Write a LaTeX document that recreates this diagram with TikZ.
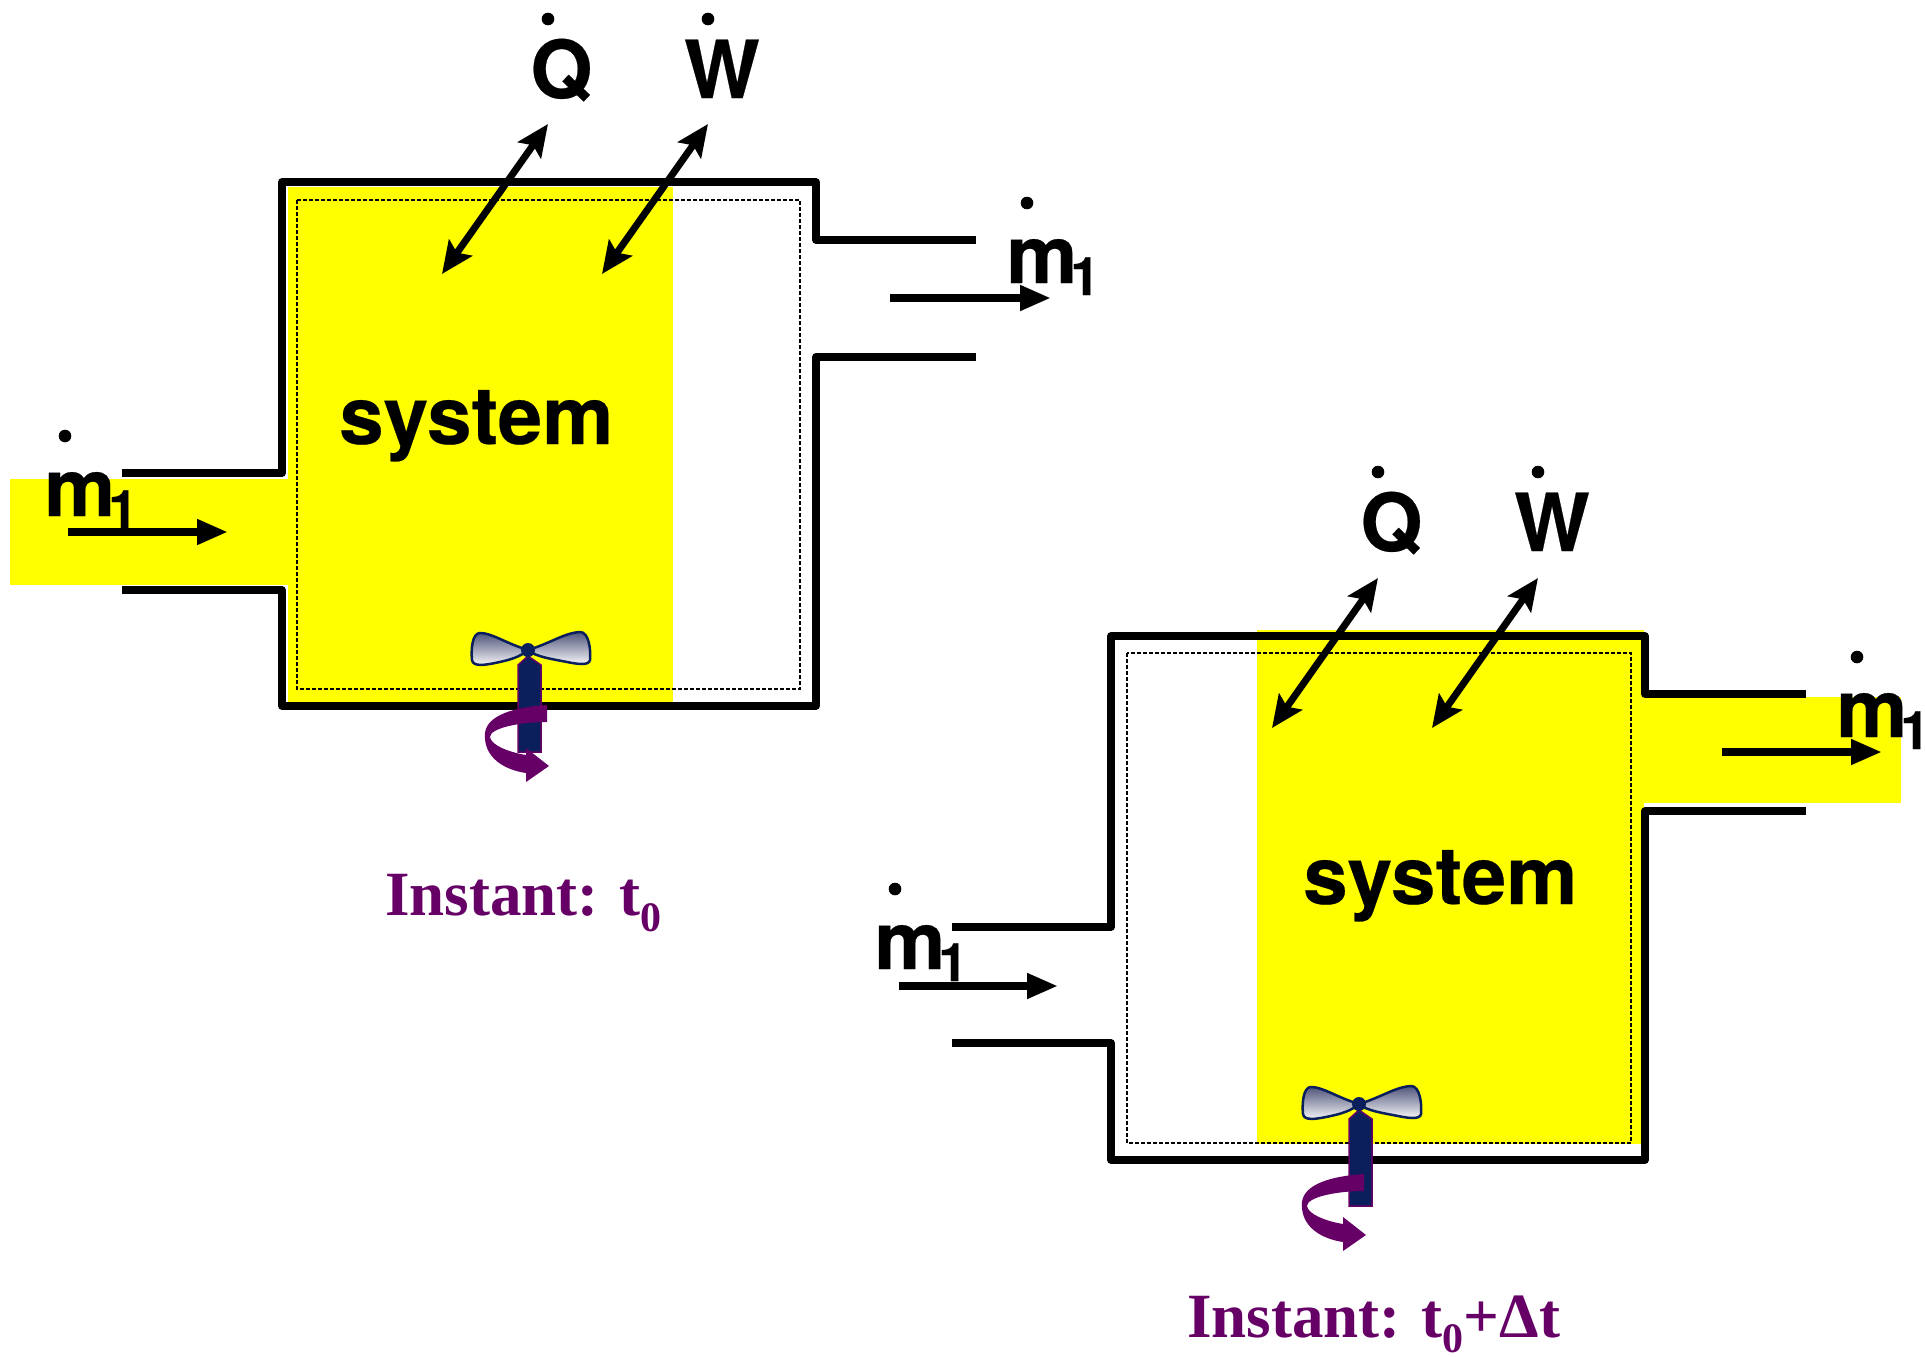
\documentclass[tikz,border=0pt]{standalone}
\usepackage{fontspec}
\setmainfont[BoldFeatures={FakeBold=0.3}]{TeX Gyre Heros}
\newfontfamily\serifb{Liberation Serif}
\usetikzlibrary{arrows.meta}
\definecolor{sysyellow}{HTML}{FFFF00}
\definecolor{plum}{HTML}{660066}
\definecolor{navyshaft}{HTML}{0A1F5C}
\definecolor{bladetop}{HTML}{50557A}
\definecolor{blademid}{HTML}{C4C4CC}
\tikzset{
  wall/.style={draw=black,line width=7.5pt,line join=round,line cap=butt},
  cv/.style={draw=black,line width=1.5pt,dash pattern=on 4pt off 2pt},
  hot/.style={fill=sysyellow,draw=none},
  flow/.style={line width=7.5pt,-{Triangle[length=31pt,width=24pt]},shorten >=0pt},
  xfer/.style={line width=7pt,{Stealth[length=32pt,width=28pt,inset=6pt]}-{Stealth[length=32pt,width=28pt,inset=6pt]}},
  lab/.style={inner sep=0pt,anchor=base west,font=\bfseries\fontsize{80}{80}\selectfont},
  captext/.style={inner sep=0pt,anchor=base west,text=plum,font=\serifb\bfseries\fontsize{63}{63}\selectfont},
  blade/.style={draw=navyshaft,line width=2.5pt,top color=bladetop,middle color=blademid,bottom color=white},
  shaft/.style={fill=navyshaft,draw=plum,line width=1.5pt},
  spin/.style={fill=plum,draw=none},
}
\newcommand{\massrate}[3]{% name, x of dot, y of dot
  \fill (#2,#3) circle (6.3pt);
  \node[lab] (#1) at (#2-21,#3+80) {m\kern-7pt\raisebox{-12pt}{\fontsize{53}{53}\selectfont 1}};
}
\newcommand{\fanunit}{%
  \path[blade] (528,650) .. controls (505,643) and (492,633) .. (480,633) .. controls (472,633) and (471,650) .. (472,660) .. controls (473,667) and (485,665) .. (495,663) .. controls (510,660) and (520,657) .. (528,650) -- cycle;
  \path[blade] (528,650) .. controls (551,643) and (564,633) .. (580,632) .. controls (589,632) and (591,650) .. (590,660) .. controls (589,666) and (577,664) .. (567,662) .. controls (552,659) and (536,657) .. (528,650) -- cycle;
  \path[shaft] (518,752) -- (518,665) -- (528,656) -- (541,665) -- (541,752) -- cycle;
  \fill[navyshaft] (528,650) circle (7pt);
}
\newcommand{\spinarrow}{%
  \path[spin] (547,705) .. controls (515,707) and (487,715) .. (485,733) .. controls (483,758) and (505,770) .. (526,773) -- (526,782) -- (549,766) -- (526,748) -- (526,755) .. controls (508,752) and (491,745) .. (490,737) .. controls (490,728) and (520,722) .. (547,722) -- cycle;
}
\begin{document}
\begin{tikzpicture}[x=1pt,y=-1pt]
\useasboundingbox (0,0) rectangle (1925,1357);
% ---- instant t0
\fill[hot] (288,187) rectangle (673,702);
\fill[hot] (10,479) rectangle (288,585);
\draw[cv] (297,200) rectangle (800,689);
\draw[wall] (122,473) -- (282,473) -- (282,182) -- (816,182) -- (816,240) -- (976,240);
\draw[wall] (122,590) -- (282,590) -- (282,706) -- (816,706) -- (816,357) -- (976,357);
\fanunit
\spinarrow
\coordinate (qa) at (442,274); \coordinate (qb) at (548,124);
\coordinate (wa) at (602,274); \coordinate (wb) at (708,124);
\draw[xfer] (qa) -- (qb);
\draw[xfer] (wa) -- (wb);
\fill (548,19) circle (6.3pt);
\fill (708,19) circle (6.3pt);
\node[lab] (Qa) at (530,98) {Q};
\node[lab] (Wa) at (684,98) {W};
\massrate{mina}{65}{436}
\massrate{mouta}{1027}{203}
\coordinate (fia) at (68,532); \coordinate (fib) at (228,532);
\draw[flow] (fia) -- (fib);
\coordinate (foa) at (890,298); \coordinate (fob) at (1051,298);
\draw[flow] (foa) -- (fob);
\node[lab] (sysa) at (339,444) {system};
\node[captext] (capa) at (385,915) {Instant: t\raisebox{-16pt}{\fontsize{42}{42}\selectfont 0}};
% ---- instant t0 + dt
\fill[hot] (1257,630) rectangle (1644,1144);
\fill[hot] (1644,697) rectangle (1901,803);
\draw[cv] (1127,653) rectangle (1631,1143);
\draw[wall] (952,927) -- (1111,927) -- (1111,636) -- (1645,636) -- (1645,694) -- (1806,694);
\draw[wall] (952,1043) -- (1111,1043) -- (1111,1160) -- (1645,1160) -- (1645,811) -- (1806,811);
\begin{scope}[shift={(831,454)}]
\fanunit
\end{scope}
\begin{scope}[shift={(817,469)}]
\spinarrow
\end{scope}
\coordinate (qc) at (1272,728); \coordinate (qd) at (1378,578);
\coordinate (wc) at (1432,728); \coordinate (wd) at (1538,578);
\draw[xfer] (qc) -- (qd);
\draw[xfer] (wc) -- (wd);
\fill (1378,472) circle (6.3pt);
\fill (1538,472) circle (6.3pt);
\node[lab] (Qb) at (1360,551) {Q};
\node[lab] (Wb) at (1514,551) {W};
\massrate{minb}{895}{889}
\massrate{moutb}{1857}{657}
\coordinate (fic) at (899,986); \coordinate (fid) at (1058,986);
\draw[flow] (fic) -- (fid);
\coordinate (foc) at (1722,752); \coordinate (fod) at (1882,752);
\draw[flow] (foc) -- (fod);
\node[lab] (sysb) at (1303,904) {system};
\node[captext] (capb) at (1187,1337) {Instant: t\raisebox{-15pt}{\fontsize{42}{42}\selectfont 0}+Δt};
\end{tikzpicture}
\end{document}
